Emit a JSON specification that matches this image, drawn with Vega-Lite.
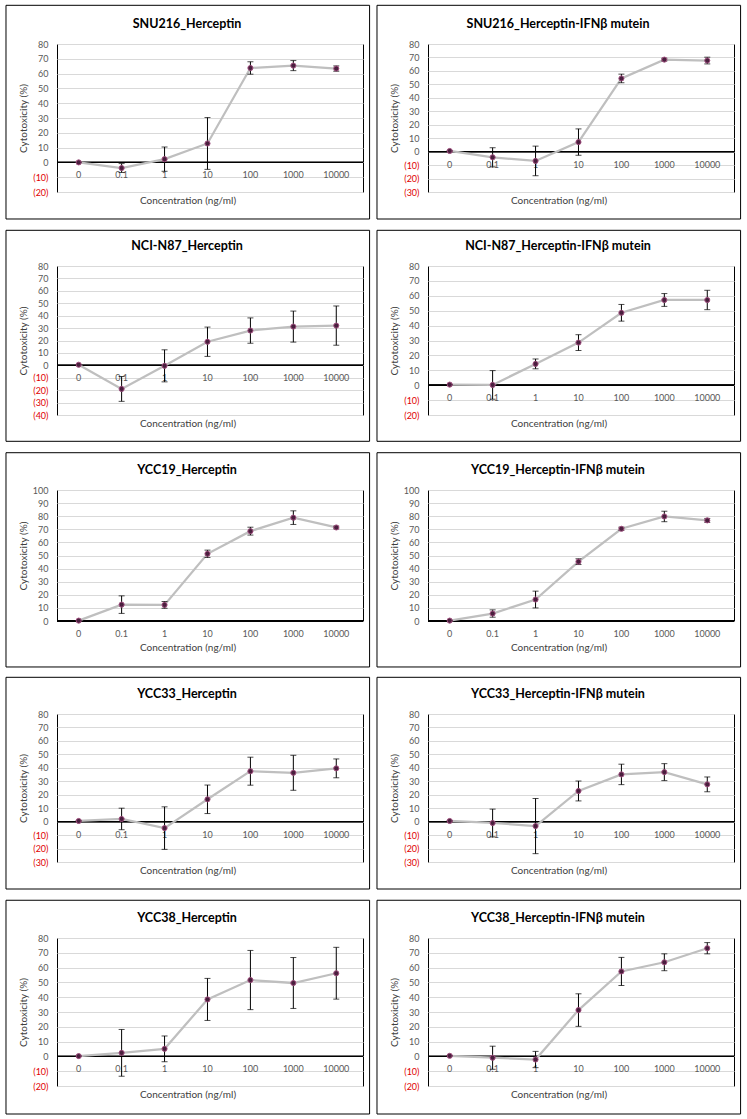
{
  "$schema": "https://vega.github.io/schema/vega-lite/v6.json",
  "background": "white",
  "padding": {"left": 4, "top": 4, "right": 0, "bottom": 0},
  "columns": 2,
  "spacing": {"row": 8, "column": 4},
  "align": "each",
  "data": {"values": [
    {"panel": "SNU216_Herceptin", "conc": "0", "mean": 0, "sd": 0},
    {"panel": "SNU216_Herceptin", "conc": "0.1", "mean": -3.8, "sd": 3},
    {"panel": "SNU216_Herceptin", "conc": "1", "mean": 2.2, "sd": 8.2},
    {"panel": "SNU216_Herceptin", "conc": "10", "mean": 12.8, "sd": 17.5},
    {"panel": "SNU216_Herceptin", "conc": "100", "mean": 63.8, "sd": 4.2},
    {"panel": "SNU216_Herceptin", "conc": "1000", "mean": 65.4, "sd": 3.4},
    {"panel": "SNU216_Herceptin", "conc": "10000", "mean": 63.4, "sd": 1.8},
    {"panel": "SNU216_Herceptin-IFNβ mutein", "conc": "0", "mean": 0.5, "sd": 0},
    {"panel": "SNU216_Herceptin-IFNβ mutein", "conc": "0.1", "mean": -4.2, "sd": 7.1},
    {"panel": "SNU216_Herceptin-IFNβ mutein", "conc": "1", "mean": -6.9, "sd": 11},
    {"panel": "SNU216_Herceptin-IFNβ mutein", "conc": "10", "mean": 7.1, "sd": 9.8},
    {"panel": "SNU216_Herceptin-IFNβ mutein", "conc": "100", "mean": 54.4, "sd": 3.2},
    {"panel": "SNU216_Herceptin-IFNβ mutein", "conc": "1000", "mean": 68.4, "sd": 1},
    {"panel": "SNU216_Herceptin-IFNβ mutein", "conc": "10000", "mean": 67.7, "sd": 2.5},
    {"panel": "NCI-N87_Herceptin", "conc": "0", "mean": 0.5, "sd": 0},
    {"panel": "NCI-N87_Herceptin", "conc": "0.1", "mean": -19, "sd": 10},
    {"panel": "NCI-N87_Herceptin", "conc": "1", "mean": -0.4, "sd": 12.9},
    {"panel": "NCI-N87_Herceptin", "conc": "10", "mean": 19, "sd": 11.8},
    {"panel": "NCI-N87_Herceptin", "conc": "100", "mean": 28, "sd": 10.2},
    {"panel": "NCI-N87_Herceptin", "conc": "1000", "mean": 31.2, "sd": 12.5},
    {"panel": "NCI-N87_Herceptin", "conc": "10000", "mean": 32, "sd": 15.8},
    {"panel": "NCI-N87_Herceptin-IFNβ mutein", "conc": "0", "mean": 0.4, "sd": 0},
    {"panel": "NCI-N87_Herceptin-IFNβ mutein", "conc": "0.1", "mean": 0.2, "sd": 9.6},
    {"panel": "NCI-N87_Herceptin-IFNβ mutein", "conc": "1", "mean": 14.3, "sd": 3.3},
    {"panel": "NCI-N87_Herceptin-IFNβ mutein", "conc": "10", "mean": 28.6, "sd": 5.3},
    {"panel": "NCI-N87_Herceptin-IFNβ mutein", "conc": "100", "mean": 48.6, "sd": 5.6},
    {"panel": "NCI-N87_Herceptin-IFNβ mutein", "conc": "1000", "mean": 57.2, "sd": 4.3},
    {"panel": "NCI-N87_Herceptin-IFNβ mutein", "conc": "10000", "mean": 57.2, "sd": 6.5},
    {"panel": "YCC19_Herceptin", "conc": "0", "mean": 0.3, "sd": 0},
    {"panel": "YCC19_Herceptin", "conc": "0.1", "mean": 12.5, "sd": 6.7},
    {"panel": "YCC19_Herceptin", "conc": "1", "mean": 12.3, "sd": 2.6},
    {"panel": "YCC19_Herceptin", "conc": "10", "mean": 51.3, "sd": 2.8},
    {"panel": "YCC19_Herceptin", "conc": "100", "mean": 68.6, "sd": 3},
    {"panel": "YCC19_Herceptin", "conc": "1000", "mean": 78.9, "sd": 5.2},
    {"panel": "YCC19_Herceptin", "conc": "10000", "mean": 71.4, "sd": 1},
    {"panel": "YCC19_Herceptin-IFNβ mutein", "conc": "0", "mean": 0.3, "sd": 0},
    {"panel": "YCC19_Herceptin-IFNβ mutein", "conc": "0.1", "mean": 5.7, "sd": 2.8},
    {"panel": "YCC19_Herceptin-IFNβ mutein", "conc": "1", "mean": 16.4, "sd": 6.4},
    {"panel": "YCC19_Herceptin-IFNβ mutein", "conc": "10", "mean": 45.3, "sd": 2.2},
    {"panel": "YCC19_Herceptin-IFNβ mutein", "conc": "100", "mean": 70.4, "sd": 1.2},
    {"panel": "YCC19_Herceptin-IFNβ mutein", "conc": "1000", "mean": 79.8, "sd": 4},
    {"panel": "YCC19_Herceptin-IFNβ mutein", "conc": "10000", "mean": 76.8, "sd": 1.5},
    {"panel": "YCC33_Herceptin", "conc": "0", "mean": 0.5, "sd": 0},
    {"panel": "YCC33_Herceptin", "conc": "0.1", "mean": 2, "sd": 8},
    {"panel": "YCC33_Herceptin", "conc": "1", "mean": -4.8, "sd": 15.8},
    {"panel": "YCC33_Herceptin", "conc": "10", "mean": 16.6, "sd": 10.6},
    {"panel": "YCC33_Herceptin", "conc": "100", "mean": 37.5, "sd": 10.4},
    {"panel": "YCC33_Herceptin", "conc": "1000", "mean": 36.3, "sd": 13},
    {"panel": "YCC33_Herceptin", "conc": "10000", "mean": 39.6, "sd": 7},
    {"panel": "YCC33_Herceptin-IFNβ mutein", "conc": "0", "mean": 0.5, "sd": 0},
    {"panel": "YCC33_Herceptin-IFNβ mutein", "conc": "0.1", "mean": -1, "sd": 10.3},
    {"panel": "YCC33_Herceptin-IFNβ mutein", "conc": "1", "mean": -3.3, "sd": 20.5},
    {"panel": "YCC33_Herceptin-IFNβ mutein", "conc": "10", "mean": 22.8, "sd": 7.4},
    {"panel": "YCC33_Herceptin-IFNβ mutein", "conc": "100", "mean": 35.1, "sd": 7.6},
    {"panel": "YCC33_Herceptin-IFNβ mutein", "conc": "1000", "mean": 36.8, "sd": 6.3},
    {"panel": "YCC33_Herceptin-IFNβ mutein", "conc": "10000", "mean": 27.7, "sd": 5.5},
    {"panel": "YCC38_Herceptin", "conc": "0", "mean": 0.2, "sd": 0},
    {"panel": "YCC38_Herceptin", "conc": "0.1", "mean": 2.4, "sd": 15.8},
    {"panel": "YCC38_Herceptin", "conc": "1", "mean": 5.1, "sd": 8.7},
    {"panel": "YCC38_Herceptin", "conc": "10", "mean": 38.5, "sd": 14.2},
    {"panel": "YCC38_Herceptin", "conc": "100", "mean": 51.6, "sd": 20},
    {"panel": "YCC38_Herceptin", "conc": "1000", "mean": 49.6, "sd": 17.2},
    {"panel": "YCC38_Herceptin", "conc": "10000", "mean": 56.2, "sd": 17.5},
    {"panel": "YCC38_Herceptin-IFNβ mutein", "conc": "0", "mean": 0.4, "sd": 0},
    {"panel": "YCC38_Herceptin-IFNβ mutein", "conc": "0.1", "mean": -0.9, "sd": 7.8},
    {"panel": "YCC38_Herceptin-IFNβ mutein", "conc": "1", "mean": -2.1, "sd": 5.5},
    {"panel": "YCC38_Herceptin-IFNβ mutein", "conc": "10", "mean": 31.3, "sd": 11},
    {"panel": "YCC38_Herceptin-IFNβ mutein", "conc": "100", "mean": 57.4, "sd": 9.5},
    {"panel": "YCC38_Herceptin-IFNβ mutein", "conc": "1000", "mean": 63.6, "sd": 5.7},
    {"panel": "YCC38_Herceptin-IFNβ mutein", "conc": "10000", "mean": 73.1, "sd": 3.8}
  ]},
  "concat": [
    {
      "title": {"text": "SNU216_Herceptin", "offset": -26},
      "width": 306, "height": 148,
      "transform": [{"filter": "datum.panel == 'SNU216_Herceptin'"}],
      "resolve": {"scale": {"x": "independent"}},
      "layer": [
        {"transform": [{"filter": "datum.conc == '0'"}], "mark": {"type": "rect", "filled": false, "stroke": "#000000", "strokeWidth": 1, "clip": false},
         "encoding": {"x": {"datum": -0.1667, "type": "quantitative", "scale": {"domain": [0, 1], "nice": false, "zero": false}, "axis": null}, "x2": {"datum": 1.0215},
                      "y": {"datum": 106.15, "type": "quantitative", "title": "Cytotoxicity (%)"}, "y2": {"datum": -38.24}}},
        {"layer": [
          {"mark": {"type": "rule", "color": "#000000", "strokeWidth": 1}, "encoding": {"y": {"datum": 0, "type": "quantitative", "title": "Cytotoxicity (%)"}}},
          {"mark": {"type": "text", "fontSize": 9, "color": "#595959", "dy": 13, "baseline": "middle"},
           "encoding": {"x": {"field": "conc", "type": "ordinal", "title": "Concentration (ng/ml)"}, "y": {"datum": 0, "type": "quantitative", "title": "Cytotoxicity (%)"}, "text": {"field": "conc"}}},
          {"mark": {"type": "line", "color": "#BFBFBF", "strokeWidth": 2.25},
           "encoding": {"x": {"field": "conc", "type": "ordinal", "title": "Concentration (ng/ml)", "scale": {"type": "point", "domain": ["0", "0.1", "1", "10", "100", "1000", "10000"], "padding": 0.564, "align": 0.448}},
                        "y": {"field": "mean", "type": "quantitative", "title": "Cytotoxicity (%)", "scale": {"domain": [-20, 80], "nice": false, "zero": false},
                              "axis": {"values": [-20, -10, 0, 10, 20, 30, 40, 50, 60, 70, 80], "tickCount": 20, "labelExpr": "datum.value < 0 ? '(' + abs(datum.value) + ')' : datum.value", "labelColor": {"condition": {"test": "datum.value < 0", "value": "#E00000"}, "value": "#595959"}}}}},
          {"mark": {"type": "errorbar", "ticks": true, "color": "#000000", "thickness": 1, "size": 6},
           "encoding": {"x": {"field": "conc", "type": "ordinal", "title": "Concentration (ng/ml)"}, "y": {"field": "mean", "type": "quantitative", "title": "Cytotoxicity (%)"}, "yError": {"field": "sd"}}},
          {"mark": {"type": "circle", "fill": "#4A1F3E", "stroke": "#A0507F", "strokeWidth": 1, "size": 26, "opacity": 1},
           "encoding": {"x": {"field": "conc", "type": "ordinal", "title": "Concentration (ng/ml)"}, "y": {"field": "mean", "type": "quantitative", "title": "Cytotoxicity (%)"}}}
        ]}
      ]
    },
    {
      "title": {"text": "SNU216_Herceptin-IFNβ mutein", "offset": -26},
      "width": 306, "height": 148,
      "transform": [{"filter": "datum.panel == 'SNU216_Herceptin-IFNβ mutein'"}],
      "resolve": {"scale": {"x": "independent"}},
      "layer": [
        {"transform": [{"filter": "datum.conc == '0'"}], "mark": {"type": "rect", "filled": false, "stroke": "#000000", "strokeWidth": 1, "clip": false},
         "encoding": {"x": {"datum": -0.1667, "type": "quantitative", "scale": {"domain": [0, 1], "nice": false, "zero": false}, "axis": null}, "x2": {"datum": 1.0215},
                      "y": {"datum": 108.76, "type": "quantitative", "title": "Cytotoxicity (%)"}, "y2": {"datum": -50.07}}},
        {"layer": [
          {"mark": {"type": "rule", "color": "#000000", "strokeWidth": 1}, "encoding": {"y": {"datum": 0, "type": "quantitative", "title": "Cytotoxicity (%)"}}},
          {"mark": {"type": "text", "fontSize": 9, "color": "#595959", "dy": 13, "baseline": "middle"},
           "encoding": {"x": {"field": "conc", "type": "ordinal", "title": "Concentration (ng/ml)"}, "y": {"datum": 0, "type": "quantitative", "title": "Cytotoxicity (%)"}, "text": {"field": "conc"}}},
          {"mark": {"type": "line", "color": "#BFBFBF", "strokeWidth": 2.25},
           "encoding": {"x": {"field": "conc", "type": "ordinal", "title": "Concentration (ng/ml)", "scale": {"type": "point", "domain": ["0", "0.1", "1", "10", "100", "1000", "10000"], "padding": 0.564, "align": 0.448}},
                        "y": {"field": "mean", "type": "quantitative", "title": "Cytotoxicity (%)", "scale": {"domain": [-30, 80], "nice": false, "zero": false},
                              "axis": {"values": [-30, -20, -10, 0, 10, 20, 30, 40, 50, 60, 70, 80], "tickCount": 20, "labelExpr": "datum.value < 0 ? '(' + abs(datum.value) + ')' : datum.value", "labelColor": {"condition": {"test": "datum.value < 0", "value": "#E00000"}, "value": "#595959"}}}}},
          {"mark": {"type": "errorbar", "ticks": true, "color": "#000000", "thickness": 1, "size": 6},
           "encoding": {"x": {"field": "conc", "type": "ordinal", "title": "Concentration (ng/ml)"}, "y": {"field": "mean", "type": "quantitative", "title": "Cytotoxicity (%)"}, "yError": {"field": "sd"}}},
          {"mark": {"type": "circle", "fill": "#4A1F3E", "stroke": "#A0507F", "strokeWidth": 1, "size": 26, "opacity": 1},
           "encoding": {"x": {"field": "conc", "type": "ordinal", "title": "Concentration (ng/ml)"}, "y": {"field": "mean", "type": "quantitative", "title": "Cytotoxicity (%)"}}}
        ]}
      ]
    },
    {
      "title": {"text": "NCI-N87_Herceptin", "offset": -23},
      "width": 306, "height": 149,
      "transform": [{"filter": "datum.panel == 'NCI-N87_Herceptin'"}],
      "resolve": {"scale": {"x": "independent"}},
      "layer": [
        {"transform": [{"filter": "datum.conc == '0'"}], "mark": {"type": "rect", "filled": false, "stroke": "#000000", "strokeWidth": 1, "clip": false},
         "encoding": {"x": {"datum": -0.1667, "type": "quantitative", "scale": {"domain": [0, 1], "nice": false, "zero": false}, "axis": null}, "x2": {"datum": 1.0215},
                      "y": {"datum": 108.75, "type": "quantitative", "title": "Cytotoxicity (%)"}, "y2": {"datum": -61.18}}},
        {"layer": [
          {"mark": {"type": "rule", "color": "#000000", "strokeWidth": 1}, "encoding": {"y": {"datum": 0, "type": "quantitative", "title": "Cytotoxicity (%)"}}},
          {"mark": {"type": "text", "fontSize": 9, "color": "#595959", "dy": 13, "baseline": "middle"},
           "encoding": {"x": {"field": "conc", "type": "ordinal", "title": "Concentration (ng/ml)"}, "y": {"datum": 0, "type": "quantitative", "title": "Cytotoxicity (%)"}, "text": {"field": "conc"}}},
          {"mark": {"type": "line", "color": "#BFBFBF", "strokeWidth": 2.25},
           "encoding": {"x": {"field": "conc", "type": "ordinal", "title": "Concentration (ng/ml)", "scale": {"type": "point", "domain": ["0", "0.1", "1", "10", "100", "1000", "10000"], "padding": 0.564, "align": 0.448}},
                        "y": {"field": "mean", "type": "quantitative", "title": "Cytotoxicity (%)", "scale": {"domain": [-40, 80], "nice": false, "zero": false},
                              "axis": {"values": [-40, -30, -20, -10, 0, 10, 20, 30, 40, 50, 60, 70, 80], "tickCount": 20, "labelExpr": "datum.value < 0 ? '(' + abs(datum.value) + ')' : datum.value", "labelColor": {"condition": {"test": "datum.value < 0", "value": "#E00000"}, "value": "#595959"}}}}},
          {"mark": {"type": "errorbar", "ticks": true, "color": "#000000", "thickness": 1, "size": 6},
           "encoding": {"x": {"field": "conc", "type": "ordinal", "title": "Concentration (ng/ml)"}, "y": {"field": "mean", "type": "quantitative", "title": "Cytotoxicity (%)"}, "yError": {"field": "sd"}}},
          {"mark": {"type": "circle", "fill": "#4A1F3E", "stroke": "#A0507F", "strokeWidth": 1, "size": 26, "opacity": 1},
           "encoding": {"x": {"field": "conc", "type": "ordinal", "title": "Concentration (ng/ml)"}, "y": {"field": "mean", "type": "quantitative", "title": "Cytotoxicity (%)"}}}
        ]}
      ]
    },
    {
      "title": {"text": "NCI-N87_Herceptin-IFNβ mutein", "offset": -23},
      "width": 306, "height": 149,
      "transform": [{"filter": "datum.panel == 'NCI-N87_Herceptin-IFNβ mutein'"}],
      "resolve": {"scale": {"x": "independent"}},
      "layer": [
        {"transform": [{"filter": "datum.conc == '0'"}], "mark": {"type": "rect", "filled": false, "stroke": "#000000", "strokeWidth": 1, "clip": false},
         "encoding": {"x": {"datum": -0.1667, "type": "quantitative", "scale": {"domain": [0, 1], "nice": false, "zero": false}, "axis": null}, "x2": {"datum": 1.0215},
                      "y": {"datum": 103.96, "type": "quantitative", "title": "Cytotoxicity (%)"}, "y2": {"datum": -37.65}}},
        {"layer": [
          {"mark": {"type": "rule", "color": "#000000", "strokeWidth": 1}, "encoding": {"y": {"datum": 0, "type": "quantitative", "title": "Cytotoxicity (%)"}}},
          {"mark": {"type": "text", "fontSize": 9, "color": "#595959", "dy": 13, "baseline": "middle"},
           "encoding": {"x": {"field": "conc", "type": "ordinal", "title": "Concentration (ng/ml)"}, "y": {"datum": 0, "type": "quantitative", "title": "Cytotoxicity (%)"}, "text": {"field": "conc"}}},
          {"mark": {"type": "line", "color": "#BFBFBF", "strokeWidth": 2.25},
           "encoding": {"x": {"field": "conc", "type": "ordinal", "title": "Concentration (ng/ml)", "scale": {"type": "point", "domain": ["0", "0.1", "1", "10", "100", "1000", "10000"], "padding": 0.564, "align": 0.448}},
                        "y": {"field": "mean", "type": "quantitative", "title": "Cytotoxicity (%)", "scale": {"domain": [-20, 80], "nice": false, "zero": false},
                              "axis": {"values": [-20, -10, 0, 10, 20, 30, 40, 50, 60, 70, 80], "tickCount": 20, "labelExpr": "datum.value < 0 ? '(' + abs(datum.value) + ')' : datum.value", "labelColor": {"condition": {"test": "datum.value < 0", "value": "#E00000"}, "value": "#595959"}}}}},
          {"mark": {"type": "errorbar", "ticks": true, "color": "#000000", "thickness": 1, "size": 6},
           "encoding": {"x": {"field": "conc", "type": "ordinal", "title": "Concentration (ng/ml)"}, "y": {"field": "mean", "type": "quantitative", "title": "Cytotoxicity (%)"}, "yError": {"field": "sd"}}},
          {"mark": {"type": "circle", "fill": "#4A1F3E", "stroke": "#A0507F", "strokeWidth": 1, "size": 26, "opacity": 1},
           "encoding": {"x": {"field": "conc", "type": "ordinal", "title": "Concentration (ng/ml)"}, "y": {"field": "mean", "type": "quantitative", "title": "Cytotoxicity (%)"}}}
        ]}
      ]
    },
    {
      "title": {"text": "YCC19_Herceptin", "offset": -24.5},
      "width": 306, "height": 131,
      "transform": [{"filter": "datum.panel == 'YCC19_Herceptin'"}],
      "resolve": {"scale": {"x": "independent"}},
      "layer": [
        {"transform": [{"filter": "datum.conc == '0'"}], "mark": {"type": "rect", "filled": false, "stroke": "#000000", "strokeWidth": 1, "clip": false},
         "encoding": {"x": {"datum": -0.1667, "type": "quantitative", "scale": {"domain": [0, 1], "nice": false, "zero": false}, "axis": null}, "x2": {"datum": 1.0215},
                      "y": {"datum": 128.47, "type": "quantitative", "title": "Cytotoxicity (%)"}, "y2": {"datum": -35.1}}},
        {"layer": [
          {"mark": {"type": "rule", "color": "#000000", "strokeWidth": 1}, "encoding": {"y": {"datum": 0, "type": "quantitative", "title": "Cytotoxicity (%)"}}},
          {"mark": {"type": "text", "fontSize": 9, "color": "#595959", "dy": 13, "baseline": "middle"},
           "encoding": {"x": {"field": "conc", "type": "ordinal", "title": "Concentration (ng/ml)"}, "y": {"datum": 0, "type": "quantitative", "title": "Cytotoxicity (%)"}, "text": {"field": "conc"}}},
          {"mark": {"type": "line", "color": "#BFBFBF", "strokeWidth": 2.25},
           "encoding": {"x": {"field": "conc", "type": "ordinal", "title": "Concentration (ng/ml)", "scale": {"type": "point", "domain": ["0", "0.1", "1", "10", "100", "1000", "10000"], "padding": 0.564, "align": 0.448}, "axis": {"titlePadding": 21}},
                        "y": {"field": "mean", "type": "quantitative", "title": "Cytotoxicity (%)", "scale": {"domain": [0, 100], "nice": false, "zero": false},
                              "axis": {"values": [0, 10, 20, 30, 40, 50, 60, 70, 80, 90, 100], "tickCount": 20, "labelExpr": "datum.value < 0 ? '(' + abs(datum.value) + ')' : datum.value", "labelColor": {"condition": {"test": "datum.value < 0", "value": "#E00000"}, "value": "#595959"}}}}},
          {"mark": {"type": "errorbar", "ticks": true, "color": "#000000", "thickness": 1, "size": 6},
           "encoding": {"x": {"field": "conc", "type": "ordinal", "title": "Concentration (ng/ml)"}, "y": {"field": "mean", "type": "quantitative", "title": "Cytotoxicity (%)"}, "yError": {"field": "sd"}}},
          {"mark": {"type": "circle", "fill": "#4A1F3E", "stroke": "#A0507F", "strokeWidth": 1, "size": 26, "opacity": 1},
           "encoding": {"x": {"field": "conc", "type": "ordinal", "title": "Concentration (ng/ml)"}, "y": {"field": "mean", "type": "quantitative", "title": "Cytotoxicity (%)"}}}
        ]}
      ]
    },
    {
      "title": {"text": "YCC19_Herceptin-IFNβ mutein", "offset": -24.5},
      "width": 306, "height": 131,
      "transform": [{"filter": "datum.panel == 'YCC19_Herceptin-IFNβ mutein'"}],
      "resolve": {"scale": {"x": "independent"}},
      "layer": [
        {"transform": [{"filter": "datum.conc == '0'"}], "mark": {"type": "rect", "filled": false, "stroke": "#000000", "strokeWidth": 1, "clip": false},
         "encoding": {"x": {"datum": -0.1667, "type": "quantitative", "scale": {"domain": [0, 1], "nice": false, "zero": false}, "axis": null}, "x2": {"datum": 1.0215},
                      "y": {"datum": 128.47, "type": "quantitative", "title": "Cytotoxicity (%)"}, "y2": {"datum": -35.1}}},
        {"layer": [
          {"mark": {"type": "rule", "color": "#000000", "strokeWidth": 1}, "encoding": {"y": {"datum": 0, "type": "quantitative", "title": "Cytotoxicity (%)"}}},
          {"mark": {"type": "text", "fontSize": 9, "color": "#595959", "dy": 13, "baseline": "middle"},
           "encoding": {"x": {"field": "conc", "type": "ordinal", "title": "Concentration (ng/ml)"}, "y": {"datum": 0, "type": "quantitative", "title": "Cytotoxicity (%)"}, "text": {"field": "conc"}}},
          {"mark": {"type": "line", "color": "#BFBFBF", "strokeWidth": 2.25},
           "encoding": {"x": {"field": "conc", "type": "ordinal", "title": "Concentration (ng/ml)", "scale": {"type": "point", "domain": ["0", "0.1", "1", "10", "100", "1000", "10000"], "padding": 0.564, "align": 0.448}, "axis": {"titlePadding": 21}},
                        "y": {"field": "mean", "type": "quantitative", "title": "Cytotoxicity (%)", "scale": {"domain": [0, 100], "nice": false, "zero": false},
                              "axis": {"values": [0, 10, 20, 30, 40, 50, 60, 70, 80, 90, 100], "tickCount": 20, "labelExpr": "datum.value < 0 ? '(' + abs(datum.value) + ')' : datum.value", "labelColor": {"condition": {"test": "datum.value < 0", "value": "#E00000"}, "value": "#595959"}}}}},
          {"mark": {"type": "errorbar", "ticks": true, "color": "#000000", "thickness": 1, "size": 6},
           "encoding": {"x": {"field": "conc", "type": "ordinal", "title": "Concentration (ng/ml)"}, "y": {"field": "mean", "type": "quantitative", "title": "Cytotoxicity (%)"}, "yError": {"field": "sd"}}},
          {"mark": {"type": "circle", "fill": "#4A1F3E", "stroke": "#A0507F", "strokeWidth": 1, "size": 26, "opacity": 1},
           "encoding": {"x": {"field": "conc", "type": "ordinal", "title": "Concentration (ng/ml)"}, "y": {"field": "mean", "type": "quantitative", "title": "Cytotoxicity (%)"}}}
        ]}
      ]
    },
    {
      "title": {"text": "YCC33_Herceptin", "offset": -23.7},
      "width": 306, "height": 148,
      "transform": [{"filter": "datum.panel == 'YCC33_Herceptin'"}],
      "resolve": {"scale": {"x": "independent"}},
      "layer": [
        {"transform": [{"filter": "datum.conc == '0'"}], "mark": {"type": "rect", "filled": false, "stroke": "#000000", "strokeWidth": 1, "clip": false},
         "encoding": {"x": {"datum": -0.1667, "type": "quantitative", "scale": {"domain": [0, 1], "nice": false, "zero": false}, "axis": null}, "x2": {"datum": 1.0215},
                      "y": {"datum": 107.27, "type": "quantitative", "title": "Cytotoxicity (%)"}, "y2": {"datum": -50.07}}},
        {"layer": [
          {"mark": {"type": "rule", "color": "#000000", "strokeWidth": 1}, "encoding": {"y": {"datum": 0, "type": "quantitative", "title": "Cytotoxicity (%)"}}},
          {"mark": {"type": "text", "fontSize": 9, "color": "#595959", "dy": 13, "baseline": "middle"},
           "encoding": {"x": {"field": "conc", "type": "ordinal", "title": "Concentration (ng/ml)"}, "y": {"datum": 0, "type": "quantitative", "title": "Cytotoxicity (%)"}, "text": {"field": "conc"}}},
          {"mark": {"type": "line", "color": "#BFBFBF", "strokeWidth": 2.25},
           "encoding": {"x": {"field": "conc", "type": "ordinal", "title": "Concentration (ng/ml)", "scale": {"type": "point", "domain": ["0", "0.1", "1", "10", "100", "1000", "10000"], "padding": 0.564, "align": 0.448}},
                        "y": {"field": "mean", "type": "quantitative", "title": "Cytotoxicity (%)", "scale": {"domain": [-30, 80], "nice": false, "zero": false},
                              "axis": {"values": [-30, -20, -10, 0, 10, 20, 30, 40, 50, 60, 70, 80], "tickCount": 20, "labelExpr": "datum.value < 0 ? '(' + abs(datum.value) + ')' : datum.value", "labelColor": {"condition": {"test": "datum.value < 0", "value": "#E00000"}, "value": "#595959"}}}}},
          {"mark": {"type": "errorbar", "ticks": true, "color": "#000000", "thickness": 1, "size": 6},
           "encoding": {"x": {"field": "conc", "type": "ordinal", "title": "Concentration (ng/ml)"}, "y": {"field": "mean", "type": "quantitative", "title": "Cytotoxicity (%)"}, "yError": {"field": "sd"}}},
          {"mark": {"type": "circle", "fill": "#4A1F3E", "stroke": "#A0507F", "strokeWidth": 1, "size": 26, "opacity": 1},
           "encoding": {"x": {"field": "conc", "type": "ordinal", "title": "Concentration (ng/ml)"}, "y": {"field": "mean", "type": "quantitative", "title": "Cytotoxicity (%)"}}}
        ]}
      ]
    },
    {
      "title": {"text": "YCC33_Herceptin-IFNβ mutein", "offset": -23.7},
      "width": 306, "height": 148,
      "transform": [{"filter": "datum.panel == 'YCC33_Herceptin-IFNβ mutein'"}],
      "resolve": {"scale": {"x": "independent"}},
      "layer": [
        {"transform": [{"filter": "datum.conc == '0'"}], "mark": {"type": "rect", "filled": false, "stroke": "#000000", "strokeWidth": 1, "clip": false},
         "encoding": {"x": {"datum": -0.1667, "type": "quantitative", "scale": {"domain": [0, 1], "nice": false, "zero": false}, "axis": null}, "x2": {"datum": 1.0215},
                      "y": {"datum": 107.27, "type": "quantitative", "title": "Cytotoxicity (%)"}, "y2": {"datum": -50.07}}},
        {"layer": [
          {"mark": {"type": "rule", "color": "#000000", "strokeWidth": 1}, "encoding": {"y": {"datum": 0, "type": "quantitative", "title": "Cytotoxicity (%)"}}},
          {"mark": {"type": "text", "fontSize": 9, "color": "#595959", "dy": 13, "baseline": "middle"},
           "encoding": {"x": {"field": "conc", "type": "ordinal", "title": "Concentration (ng/ml)"}, "y": {"datum": 0, "type": "quantitative", "title": "Cytotoxicity (%)"}, "text": {"field": "conc"}}},
          {"mark": {"type": "line", "color": "#BFBFBF", "strokeWidth": 2.25},
           "encoding": {"x": {"field": "conc", "type": "ordinal", "title": "Concentration (ng/ml)", "scale": {"type": "point", "domain": ["0", "0.1", "1", "10", "100", "1000", "10000"], "padding": 0.564, "align": 0.448}},
                        "y": {"field": "mean", "type": "quantitative", "title": "Cytotoxicity (%)", "scale": {"domain": [-30, 80], "nice": false, "zero": false},
                              "axis": {"values": [-30, -20, -10, 0, 10, 20, 30, 40, 50, 60, 70, 80], "tickCount": 20, "labelExpr": "datum.value < 0 ? '(' + abs(datum.value) + ')' : datum.value", "labelColor": {"condition": {"test": "datum.value < 0", "value": "#E00000"}, "value": "#595959"}}}}},
          {"mark": {"type": "errorbar", "ticks": true, "color": "#000000", "thickness": 1, "size": 6},
           "encoding": {"x": {"field": "conc", "type": "ordinal", "title": "Concentration (ng/ml)"}, "y": {"field": "mean", "type": "quantitative", "title": "Cytotoxicity (%)"}, "yError": {"field": "sd"}}},
          {"mark": {"type": "circle", "fill": "#4A1F3E", "stroke": "#A0507F", "strokeWidth": 1, "size": 26, "opacity": 1},
           "encoding": {"x": {"field": "conc", "type": "ordinal", "title": "Concentration (ng/ml)"}, "y": {"field": "mean", "type": "quantitative", "title": "Cytotoxicity (%)"}}}
        ]}
      ]
    },
    {
      "title": {"text": "YCC38_Herceptin", "offset": -24.7},
      "width": 306, "height": 148,
      "transform": [{"filter": "datum.panel == 'YCC38_Herceptin'"}],
      "resolve": {"scale": {"x": "independent"}},
      "layer": [
        {"transform": [{"filter": "datum.conc == '0'"}], "mark": {"type": "rect", "filled": false, "stroke": "#000000", "strokeWidth": 1, "clip": false},
         "encoding": {"x": {"datum": -0.1667, "type": "quantitative", "scale": {"domain": [0, 1], "nice": false, "zero": false}, "axis": null}, "x2": {"datum": 1.0215},
                      "y": {"datum": 105.5, "type": "quantitative", "title": "Cytotoxicity (%)"}, "y2": {"datum": -38.92}}},
        {"layer": [
          {"mark": {"type": "rule", "color": "#000000", "strokeWidth": 1}, "encoding": {"y": {"datum": 0, "type": "quantitative", "title": "Cytotoxicity (%)"}}},
          {"mark": {"type": "text", "fontSize": 9, "color": "#595959", "dy": 13, "baseline": "middle"},
           "encoding": {"x": {"field": "conc", "type": "ordinal", "title": "Concentration (ng/ml)"}, "y": {"datum": 0, "type": "quantitative", "title": "Cytotoxicity (%)"}, "text": {"field": "conc"}}},
          {"mark": {"type": "line", "color": "#BFBFBF", "strokeWidth": 2.25},
           "encoding": {"x": {"field": "conc", "type": "ordinal", "title": "Concentration (ng/ml)", "scale": {"type": "point", "domain": ["0", "0.1", "1", "10", "100", "1000", "10000"], "padding": 0.564, "align": 0.448}},
                        "y": {"field": "mean", "type": "quantitative", "title": "Cytotoxicity (%)", "scale": {"domain": [-20, 80], "nice": false, "zero": false},
                              "axis": {"values": [-20, -10, 0, 10, 20, 30, 40, 50, 60, 70, 80], "tickCount": 20, "labelExpr": "datum.value < 0 ? '(' + abs(datum.value) + ')' : datum.value", "labelColor": {"condition": {"test": "datum.value < 0", "value": "#E00000"}, "value": "#595959"}}}}},
          {"mark": {"type": "errorbar", "ticks": true, "color": "#000000", "thickness": 1, "size": 6},
           "encoding": {"x": {"field": "conc", "type": "ordinal", "title": "Concentration (ng/ml)"}, "y": {"field": "mean", "type": "quantitative", "title": "Cytotoxicity (%)"}, "yError": {"field": "sd"}}},
          {"mark": {"type": "circle", "fill": "#4A1F3E", "stroke": "#A0507F", "strokeWidth": 1, "size": 26, "opacity": 1},
           "encoding": {"x": {"field": "conc", "type": "ordinal", "title": "Concentration (ng/ml)"}, "y": {"field": "mean", "type": "quantitative", "title": "Cytotoxicity (%)"}}}
        ]}
      ]
    },
    {
      "title": {"text": "YCC38_Herceptin-IFNβ mutein", "offset": -24.7},
      "width": 306, "height": 148,
      "transform": [{"filter": "datum.panel == 'YCC38_Herceptin-IFNβ mutein'"}],
      "resolve": {"scale": {"x": "independent"}},
      "layer": [
        {"transform": [{"filter": "datum.conc == '0'"}], "mark": {"type": "rect", "filled": false, "stroke": "#000000", "strokeWidth": 1, "clip": false},
         "encoding": {"x": {"datum": -0.1667, "type": "quantitative", "scale": {"domain": [0, 1], "nice": false, "zero": false}, "axis": null}, "x2": {"datum": 1.0215},
                      "y": {"datum": 105.5, "type": "quantitative", "title": "Cytotoxicity (%)"}, "y2": {"datum": -38.92}}},
        {"layer": [
          {"mark": {"type": "rule", "color": "#000000", "strokeWidth": 1}, "encoding": {"y": {"datum": 0, "type": "quantitative", "title": "Cytotoxicity (%)"}}},
          {"mark": {"type": "text", "fontSize": 9, "color": "#595959", "dy": 13, "baseline": "middle"},
           "encoding": {"x": {"field": "conc", "type": "ordinal", "title": "Concentration (ng/ml)"}, "y": {"datum": 0, "type": "quantitative", "title": "Cytotoxicity (%)"}, "text": {"field": "conc"}}},
          {"mark": {"type": "line", "color": "#BFBFBF", "strokeWidth": 2.25},
           "encoding": {"x": {"field": "conc", "type": "ordinal", "title": "Concentration (ng/ml)", "scale": {"type": "point", "domain": ["0", "0.1", "1", "10", "100", "1000", "10000"], "padding": 0.564, "align": 0.448}},
                        "y": {"field": "mean", "type": "quantitative", "title": "Cytotoxicity (%)", "scale": {"domain": [-20, 80], "nice": false, "zero": false},
                              "axis": {"values": [-20, -10, 0, 10, 20, 30, 40, 50, 60, 70, 80], "tickCount": 20, "labelExpr": "datum.value < 0 ? '(' + abs(datum.value) + ')' : datum.value", "labelColor": {"condition": {"test": "datum.value < 0", "value": "#E00000"}, "value": "#595959"}}}}},
          {"mark": {"type": "errorbar", "ticks": true, "color": "#000000", "thickness": 1, "size": 6},
           "encoding": {"x": {"field": "conc", "type": "ordinal", "title": "Concentration (ng/ml)"}, "y": {"field": "mean", "type": "quantitative", "title": "Cytotoxicity (%)"}, "yError": {"field": "sd"}}},
          {"mark": {"type": "circle", "fill": "#4A1F3E", "stroke": "#A0507F", "strokeWidth": 1, "size": 26, "opacity": 1},
           "encoding": {"x": {"field": "conc", "type": "ordinal", "title": "Concentration (ng/ml)"}, "y": {"field": "mean", "type": "quantitative", "title": "Cytotoxicity (%)"}}}
        ]}
      ]
    }
  ],
  "config": {
    "font": "Lato",
    "view": {"stroke": "#000000", "strokeWidth": 1},
    "title": {"fontSize": 12.5, "fontWeight": "bold", "color": "#000000", "frame": "group", "anchor": "middle", "dx": -23},
    "axisY": {"grid": true, "gridColor": "#D9D9D9", "gridWidth": 1, "ticks": false, "tickSize": 0, "domain": false, "tickCount": 20, "labelFontSize": 9, "labelPadding": 9, "labelOverlap": false, "titleFontSize": 10, "titleFontWeight": "normal", "titleColor": "#404040", "titlePadding": 4},
    "axisX": {"labels": false, "ticks": false, "tickSize": 0, "domain": false, "grid": false, "titleFontSize": 10, "titleFontWeight": "normal", "titleColor": "#404040", "titlePadding": 3, "titleX": 130.5, "titleAlign": "center", "titleAnchor": null}
  }
}
